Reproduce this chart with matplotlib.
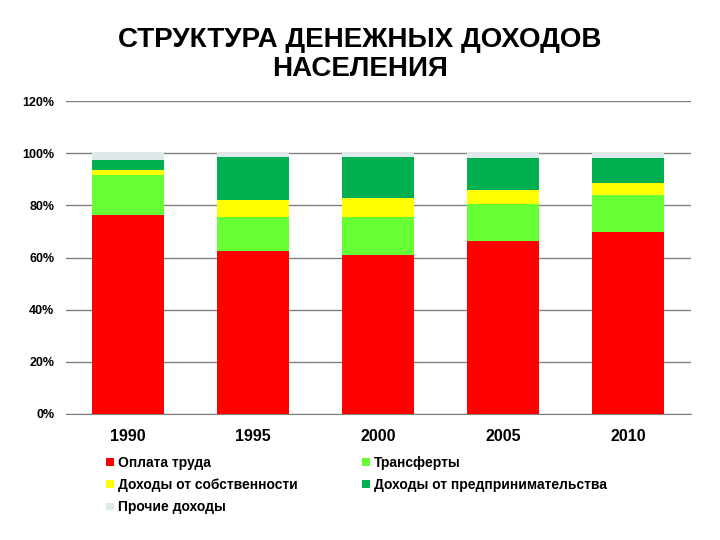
import numpy as np
import matplotlib.pyplot as plt
from matplotlib.patches import Rectangle

plt.rcParams['font.family'] = ['Liberation Sans', 'DejaVu Sans']

years = ['1990', '1995', '2000', '2005', '2010']
oplata = [76.4, 62.6, 61.0, 66.4, 69.9]
transfery = [15.1, 12.9, 14.5, 14.3, 14.1]
sobstv = [2.0, 6.6, 7.4, 5.1, 4.6]
predpr = [3.8, 16.5, 15.7, 12.5, 9.7]
prochie = [2.7, 1.4, 1.4, 1.7, 1.7]

series = [
    ('Оплата труда', oplata, '#ff0000'),
    ('Трансферты', transfery, '#66ff33'),
    ('Доходы от собственности', sobstv, '#ffff00'),
    ('Доходы от предпринимательства', predpr, '#00b050'),
    ('Прочие доходы', prochie, '#dde9ea'),
]

W, H = 720, 540
fig = plt.figure(figsize=(7.2, 5.4), dpi=100)
ax = fig.add_axes([65.5 / W, 1 - 414 / H, 625 / W, 313 / H])

x = np.arange(len(years))
bottom = np.zeros(len(years))
for name, vals, col in series:
    ax.bar(x, vals, width=0.58, bottom=bottom, color=col, zorder=3)
    bottom += np.array(vals)

ax.set_xlim(-0.5, len(years) - 0.5)
ax.set_ylim(0, 120)
ax.set_yticks(range(0, 121, 20))
ax.set_yticklabels([f'{v}%' for v in range(0, 121, 20)], fontsize=9, fontweight='bold')
ax.set_xticks(x)
ax.set_xticklabels(years, fontsize=11.5, fontweight='bold')
ax.tick_params(axis='x', length=0, pad=11)
ax.tick_params(axis='y', length=0, pad=8)
ax.grid(axis='y', color='#808080', linewidth=1, zorder=0)
for s in ['top', 'right', 'left']:
    ax.spines[s].set_visible(False)
ax.spines['bottom'].set_color('#808080')

# заголовок
fig.text(0.5, 1 - 47 / H, 'СТРУКТУРА ДЕНЕЖНЫХ ДОХОДОВ', ha='center', va='baseline',
         fontsize=20, fontweight='bold')
fig.text(0.5, 1 - 75.5 / H, 'НАСЕЛЕНИЯ', ha='center', va='baseline',
         fontsize=20, fontweight='bold')

# легенда вручную (2 колонки)
leg_pos = [(106, 462), (362, 462), (106, 484), (362, 484), (106, 506.5)]
for (name, vals, col), (lx, ly) in zip(series, leg_pos):
    fig.patches.append(Rectangle((lx / W, 1 - (ly + 3.5) / H), 7.5 / W, 7.5 / H,
                                 facecolor=col, edgecolor='none', transform=fig.transFigure))
    fig.text((lx + 12) / W, 1 - (ly + 5) / H, name, ha='left', va='baseline',
             fontsize=10, fontweight='bold')

fig.savefig('out.png', dpi=100)
